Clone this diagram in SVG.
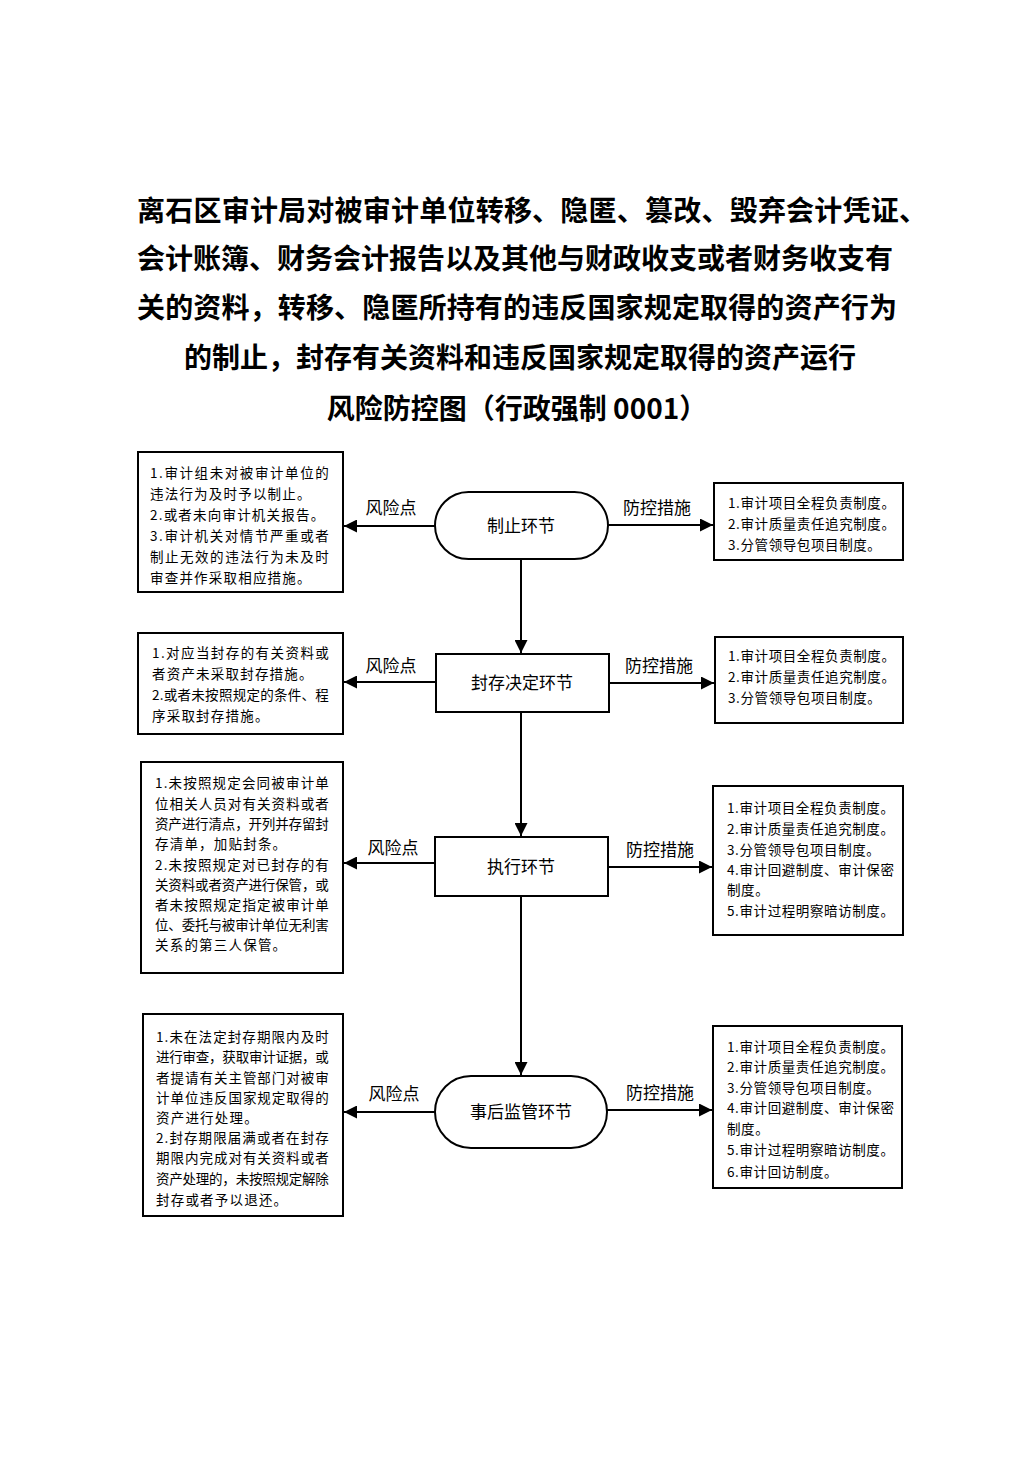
<svg xmlns="http://www.w3.org/2000/svg" width="1033" height="1460" viewBox="0 0 1033 1460">
<style>
.title{font-family:"Noto Sans CJK SC","Liberation Sans",sans-serif;font-size:28px;font-weight:bold;fill:#000}
.node{fill:#fff;stroke:#000;stroke-width:2}
.box{fill:#fff;stroke:#000;stroke-width:2}
.nl{font-family:"Noto Sans CJK SC",sans-serif;font-size:17px;fill:#000;text-anchor:middle}
.lab{font-family:"Noto Sans CJK SC",sans-serif;font-size:17px;fill:#000;text-anchor:middle}
.lt{font-family:"Noto Sans CJK SC",sans-serif;font-size:13.5px;letter-spacing:1.2px;fill:#000}
.rt{font-family:"Noto Sans CJK SC",sans-serif;font-size:13.5px;letter-spacing:0.6px;fill:#000}
.c{fill:none;stroke:#000;stroke-width:2;marker-end:url(#ah)}
</style>
<defs>
<marker id="ah" viewBox="0 0 10 10" refX="10" refY="5" markerWidth="6.5" markerHeight="6.5" orient="auto" markerUnits="strokeWidth">
<path d="M0,0 L10,5 L0,10 z" fill="#000"/>
</marker>
</defs>
<rect width="1033" height="1460" fill="#fff"/>
<g id="title">
<text class="title" x="137" y="221" textLength="790" lengthAdjust="spacing">离石区审计局对被审计单位转移、隐匿、篡改、毁弃会计凭证、</text>
<text class="title" x="137" y="269" textLength="756" lengthAdjust="spacing">会计账簿、财务会计报告以及其他与财政收支或者财务收支有</text>
<text class="title" x="137" y="318" textLength="760" lengthAdjust="spacing">关的资料，转移、隐匿所持有的违反国家规定取得的资产行为</text>
<text class="title" x="520" y="368" text-anchor="middle">的制止，封存有关资料和违反国家规定取得的资产运行</text>
<text class="title" x="517" y="419" text-anchor="middle">风险防控图（行政强制 0001）</text>
</g>
<g id="connectors">
<line class="c" x1="521" y1="559" x2="521" y2="653"/>
<line class="c" x1="521" y1="712" x2="521" y2="836"/>
<line class="c" x1="521" y1="896" x2="521" y2="1075"/>
<line class="c" x1="435" y1="526" x2="344" y2="526"/>
<line class="c" x1="608" y1="525" x2="713" y2="525"/>
<line class="c" x1="436" y1="682" x2="344" y2="682"/>
<line class="c" x1="609" y1="683" x2="714" y2="683"/>
<line class="c" x1="435" y1="863" x2="344" y2="863"/>
<line class="c" x1="608" y1="867" x2="712" y2="867"/>
<line class="c" x1="435" y1="1112" x2="344" y2="1112"/>
<line class="c" x1="607" y1="1110" x2="712" y2="1110"/>
<text class="lab" x="391" y="514">风险点</text>
<text class="lab" x="657" y="514">防控措施</text>
<text class="lab" x="391" y="672">风险点</text>
<text class="lab" x="659" y="672">防控措施</text>
<text class="lab" x="393" y="854">风险点</text>
<text class="lab" x="660" y="856">防控措施</text>
<text class="lab" x="394" y="1100">风险点</text>
<text class="lab" x="660" y="1099">防控措施</text>
</g>
<g id="n1">
<rect class="node" x="435" y="492" width="173" height="67" rx="33.5" ry="33.5"/>
<text class="nl" x="521" y="532">制止环节</text>
</g>
<g id="n2">
<rect class="node" x="436" y="654" width="173" height="58"/>
<text class="nl" x="522" y="689">封存决定环节</text>
</g>
<g id="n3">
<rect class="node" x="435" y="837" width="173" height="59"/>
<text class="nl" x="521" y="873">执行环节</text>
</g>
<g id="n4">
<rect class="node" x="435" y="1076" width="172" height="72" rx="36" ry="36"/>
<text class="nl" x="521" y="1118">事后监管环节</text>
</g>
<g id="risk1">
<rect class="box" x="138" y="452" width="205" height="140"/>
<text class="lt" x="150" y="478" textLength="180" lengthAdjust="spacing">1.审计组未对被审计单位的</text>
<text class="lt" x="150" y="499">违法行为及时予以制止。</text>
<text class="lt" x="150" y="520">2.或者未向审计机关报告。</text>
<text class="lt" x="150" y="541" textLength="180" lengthAdjust="spacing">3.审计机关对情节严重或者</text>
<text class="lt" x="150" y="562" textLength="180" lengthAdjust="spacing">制止无效的违法行为未及时</text>
<text class="lt" x="150" y="583">审查并作采取相应措施。</text>
</g>
<g id="ctrl1">
<rect class="box" x="714" y="483" width="189" height="77"/>
<text class="rt" x="728" y="508">1.审计项目全程负责制度。</text>
<text class="rt" x="728" y="529">2.审计质量责任追究制度。</text>
<text class="rt" x="728" y="550">3.分管领导包项目制度。</text>
</g>
<g id="risk2">
<rect class="box" x="138" y="633" width="205" height="101"/>
<text class="lt" x="152" y="658" textLength="178" lengthAdjust="spacing">1.对应当封存的有关资料或</text>
<text class="lt" x="152" y="679">者资产未采取封存措施。</text>
<text class="lt" x="152" y="700" textLength="178" lengthAdjust="spacing">2.或者未按照规定的条件、程</text>
<text class="lt" x="152" y="721">序采取封存措施。</text>
</g>
<g id="ctrl2">
<rect class="box" x="715" y="637" width="188" height="86"/>
<text class="rt" x="728" y="661">1.审计项目全程负责制度。</text>
<text class="rt" x="728" y="682">2.审计质量责任追究制度。</text>
<text class="rt" x="728" y="703">3.分管领导包项目制度。</text>
</g>
<g id="risk3">
<rect class="box" x="141" y="762" width="202" height="211"/>
<text class="lt" x="155" y="788" textLength="175" lengthAdjust="spacing">1.未按照规定会同被审计单</text>
<text class="lt" x="155" y="809" textLength="175" lengthAdjust="spacing">位相关人员对有关资料或者</text>
<text class="lt" x="155" y="829" textLength="175" lengthAdjust="spacing">资产进行清点，开列并存留封</text>
<text class="lt" x="155" y="849">存清单，加贴封条。</text>
<text class="lt" x="155" y="870" textLength="175" lengthAdjust="spacing">2.未按照规定对已封存的有</text>
<text class="lt" x="155" y="890" textLength="175" lengthAdjust="spacing">关资料或者资产进行保管，或</text>
<text class="lt" x="155" y="910" textLength="175" lengthAdjust="spacing">者未按照规定指定被审计单</text>
<text class="lt" x="155" y="930" textLength="175" lengthAdjust="spacing">位、委托与被审计单位无利害</text>
<text class="lt" x="155" y="950">关系的第三人保管。</text>
</g>
<g id="ctrl3">
<rect class="box" x="713" y="786" width="190" height="149"/>
<text class="rt" x="727" y="813">1.审计项目全程负责制度。</text>
<text class="rt" x="727" y="834">2.审计质量责任追究制度。</text>
<text class="rt" x="727" y="855">3.分管领导包项目制度。</text>
<text class="rt" x="727" y="875">4.审计回避制度、审计保密</text>
<text class="rt" x="727" y="895">制度。</text>
<text class="rt" x="727" y="916">5.审计过程明察暗访制度。</text>
</g>
<g id="risk4">
<rect class="box" x="143" y="1014" width="200" height="202"/>
<text class="lt" x="156" y="1042" textLength="174" lengthAdjust="spacing">1.未在法定封存期限内及时</text>
<text class="lt" x="156" y="1062" textLength="174" lengthAdjust="spacing">进行审查，获取审计证据，或</text>
<text class="lt" x="156" y="1083" textLength="174" lengthAdjust="spacing">者提请有关主管部门对被审</text>
<text class="lt" x="156" y="1103" textLength="174" lengthAdjust="spacing">计单位违反国家规定取得的</text>
<text class="lt" x="156" y="1123">资产进行处理。</text>
<text class="lt" x="156" y="1143" textLength="174" lengthAdjust="spacing">2.封存期限届满或者在封存</text>
<text class="lt" x="156" y="1163" textLength="174" lengthAdjust="spacing">期限内完成对有关资料或者</text>
<text class="lt" x="156" y="1184" textLength="174" lengthAdjust="spacing">资产处理的，未按照规定解除</text>
<text class="lt" x="156" y="1205">封存或者予以退还。</text>
</g>
<g id="ctrl4">
<rect class="box" x="713" y="1026" width="189" height="162"/>
<text class="rt" x="727" y="1052">1.审计项目全程负责制度。</text>
<text class="rt" x="727" y="1072">2.审计质量责任追究制度。</text>
<text class="rt" x="727" y="1093">3.分管领导包项目制度。</text>
<text class="rt" x="727" y="1113">4.审计回避制度、审计保密</text>
<text class="rt" x="727" y="1134">制度。</text>
<text class="rt" x="727" y="1155">5.审计过程明察暗访制度。</text>
<text class="rt" x="727" y="1177">6.审计回访制度。</text>
</g>
</svg>
